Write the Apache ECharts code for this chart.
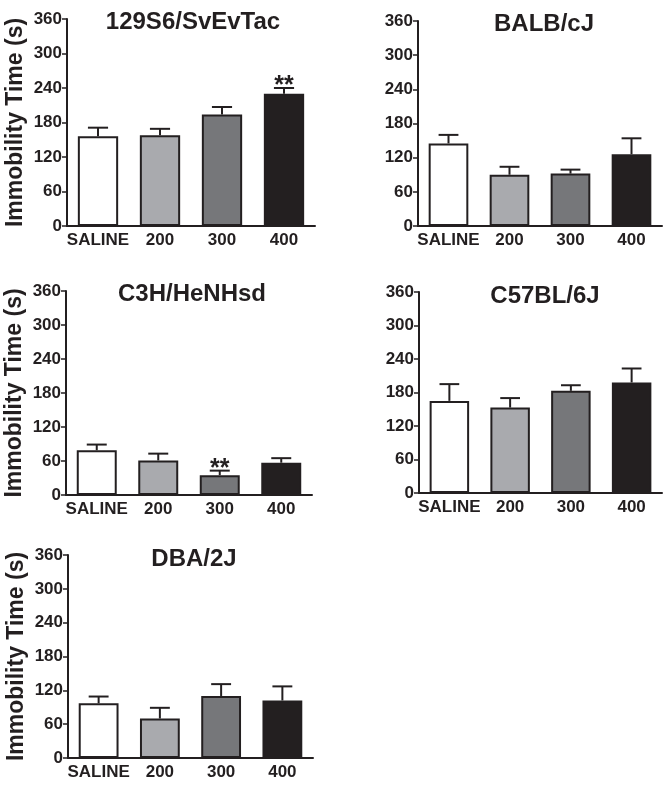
<!DOCTYPE html>
<html>
<head>
<meta charset="utf-8">
<script src="https://cdn.jsdelivr.net/npm/echarts@6/dist/echarts.min.js"></script>
<style>
html,body{margin:0;padding:0;background:#fff;}
#chart{width:672px;height:787px;}
</style>
</head>
<body>
<div id="chart"></div>
<script>
// ---- data ----
const categories = ['SALINE', '200', '300', '400'];
const strains = ['129S6/SvEvTac', 'BALB/cJ', 'C3H/HeNHsd', 'C57BL/6J', 'DBA/2J'];
const yAxisName = 'Immobility Time (s)';
const yMin = 0, yMax = 360, yStep = 60;

const mean129S6 = [156, 158, 194, 230];
const sem129S6  = [15, 11, 13, 10];
const sig129S6  = ['', '', '', '**'];

const meanBALB = [145, 90, 92, 126];
const semBALB  = [15, 14, 7, 28];
const sigBALB  = ['', '', '', ''];

const meanC3H = [79, 61, 35, 57];
const semC3H  = [10, 12, 8, 8];
const sigC3H  = ['', '', '**', ''];

const meanC57 = [165, 153, 183, 198];
const semC57  = [30, 17, 10, 25];
const sigC57  = ['', '', '', ''];

const meanDBA = [97, 70, 110, 102];
const semDBA  = [12, 19, 21, 25];
const sigDBA  = ['', '', '', ''];

const means = [mean129S6, meanBALB, meanC3H, meanC57, meanDBA];
const sems  = [sem129S6, semBALB, semC3H, semC57, semDBA];
const sigs  = [sig129S6, sigBALB, sigC3H, sigC57, sigDBA];

// ---- layout / style ----
const INK = '#231f20';
const barColors = ['#ffffff', '#a9aaae', '#76777a', '#231f20'];
const FONT = '"Liberation Sans", Arial, sans-serif';
const grids = [
  {left: 67,  top: 19,  width: 248, height: 207},
  {left: 418, top: 21,  width: 244, height: 205},
  {left: 66,  top: 291, width: 246, height: 204},
  {left: 419, top: 292, width: 243, height: 201},
  {left: 68,  top: 555, width: 245, height: 203}
];
const titlePos = [[188, 5], [539, 7], [187, 277], [540, 279], [189, 542]];
const showYName = [true, false, true, false, true];

const option = {
  animation: false,
  backgroundColor: '#ffffff',
  title: strains.map((s, i) => ({
    text: s, left: titlePos[i][0], top: titlePos[i][1], textAlign: 'center',
    textStyle: {fontFamily: FONT, fontWeight: 'bold', fontSize: 24, color: INK}
  })),
  grid: grids.map(g => Object.assign({containLabel: false}, g)),
  xAxis: grids.map((g, i) => ({
    type: 'category', gridIndex: i, data: categories,
    axisLine: {lineStyle: {color: INK, width: 2}},
    axisTick: {alignWithLabel: true, length: 4, lineStyle: {color: INK, width: 1.5}},
    axisLabel: {interval: 0, margin: 6, fontFamily: FONT, fontWeight: 'bold', fontSize: 17, color: INK},
    splitLine: {show: false}
  })),
  yAxis: grids.map((g, i) => ({
    type: 'value', gridIndex: i, min: yMin, max: yMax, interval: yStep,
    name: showYName[i] ? yAxisName : '',
    nameLocation: 'middle', nameGap: 40, nameRotate: 90,
    nameTextStyle: {fontFamily: FONT, fontWeight: 'bold', fontSize: 23, color: INK},
    axisLine: {show: true, lineStyle: {color: INK, width: 2}},
    axisTick: {show: true, length: 5, lineStyle: {color: INK, width: 1.5}},
    axisLabel: {margin: 5, fontFamily: FONT, fontWeight: 'bold', fontSize: 17, color: INK},
    splitLine: {show: false}
  })),
  series: []
};

means.forEach((m, i) => {
  option.series.push({
    type: 'bar', xAxisIndex: i, yAxisIndex: i, barWidth: '65%',
    data: m.map((v, k) => ({value: v, itemStyle: {color: barColors[k]}})),
    itemStyle: {borderColor: INK, borderWidth: 2},
    z: 2
  });
  option.series.push({
    type: 'custom', xAxisIndex: i, yAxisIndex: i, z: 3,
    data: m.map((v, k) => [k, v, sems[i][k], sigs[i][k]]),
    renderItem: function (params, api) {
      const x = api.value(0), mv = api.value(1), s = api.value(2);
      const sig = sigs[i][params.dataIndex];
      const base = api.coord([x, mv]);
      const top = api.coord([x, mv + s]);
      const bw = api.size([1, 0])[0] * 0.65;
      const hc = bw / 4;
      const st = {stroke: INK, lineWidth: 2};
      const children = [
        {type: 'line', shape: {x1: base[0], y1: base[1], x2: top[0], y2: top[1]}, style: st},
        {type: 'line', shape: {x1: top[0] - hc, y1: top[1], x2: top[0] + hc, y2: top[1]}, style: st}
      ];
      if (sig) {
        children.push({type: 'text', style: {
          text: sig, x: top[0], y: top[1] - 2, align: 'center', verticalAlign: 'middle',
          font: 'bold 25px ' + FONT, fill: INK
        }});
      }
      return {type: 'group', children: children};
    }
  });
});

const chart = echarts.init(document.getElementById('chart'), null, {renderer: 'canvas'});
chart.setOption(option);
</script>
</body>
</html>
